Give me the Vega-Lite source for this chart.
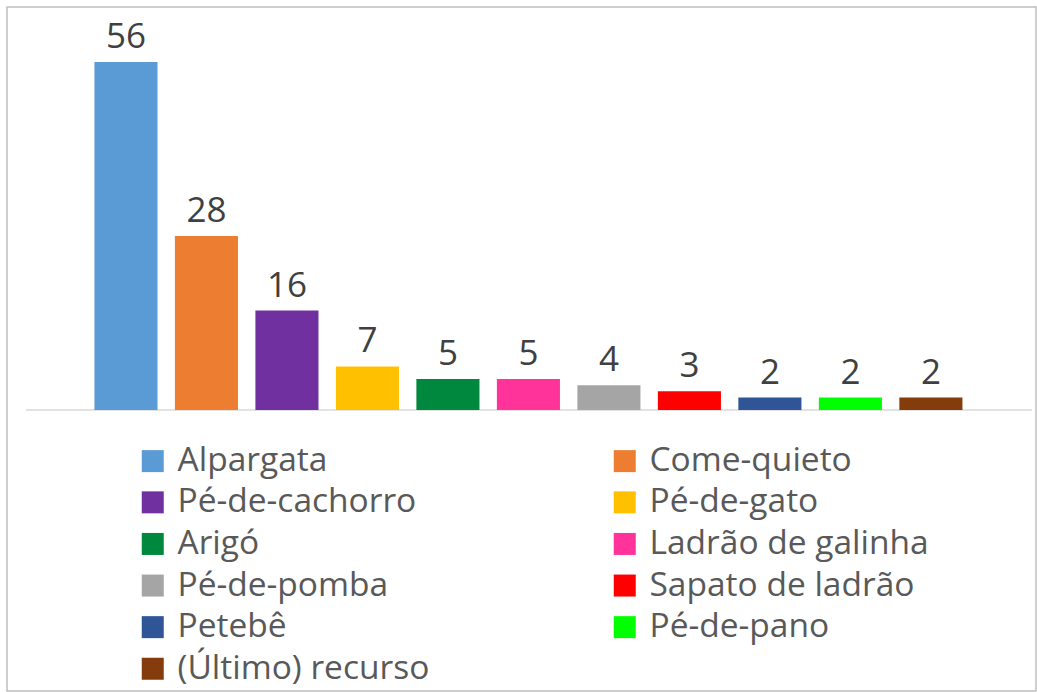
{
  "$schema": "https://vega.github.io/schema/vega-lite/v6.json",
  "width": 1029,
  "height": 684,
  "autosize": {"type": "none"},
  "padding": {"left": 7, "top": 7, "right": 1, "bottom": 1},
  "background": "white",
  "config": {"view": {"stroke": "#BFBFBF", "strokeWidth": 1.5}, "font": "Open Sans"},
  "datasets": {
    "bars": [
      {"name": "Alpargata", "value": 56},
      {"name": "Come-quieto", "value": 28},
      {"name": "Pé-de-cachorro", "value": 16},
      {"name": "Pé-de-gato", "value": 7},
      {"name": "Arigó", "value": 5},
      {"name": "Ladrão de galinha", "value": 5},
      {"name": "Pé-de-pomba", "value": 4},
      {"name": "Sapato de ladrão", "value": 3},
      {"name": "Petebê", "value": 2},
      {"name": "Pé-de-pano", "value": 2},
      {"name": "(Último) recurso", "value": 2}
    ],
    "base": [{"a": 0, "b": 1, "v": 0}]
  },
  "layer": [
    {
      "data": {"name": "base"},
      "mark": {"type": "rule", "color": "#D9D9D9", "strokeWidth": 1.5},
      "encoding": {
        "x": {"field": "a", "type": "quantitative", "scale": {"domain": [-0.01889, 1.00397], "nice": false, "zero": false}, "axis": null},
        "x2": {"field": "b"},
        "y": {"field": "v", "type": "quantitative", "scale": {"domain": [-45.22, 64.85], "nice": false, "zero": false}, "axis": null}
      }
    },
    {
      "data": {"name": "bars"},
      "encoding": {
        "x": {"field": "name", "type": "nominal", "sort": null,
              "scale": {"type": "band", "paddingInner": 0.2164, "paddingOuter": 1.0076, "align": 0.543, "round": false}, "axis": null},
        "y": {"field": "value", "type": "quantitative", "scale": {"domain": [-45.22, 64.85], "nice": false, "zero": false}, "axis": null}
      },
      "layer": [
        {
          "mark": {"type": "bar"},
          "encoding": {
            "y2": {"datum": 0},
            "color": {
              "field": "name", "type": "nominal",
              "scale": {
                "domain": ["Alpargata", "Come-quieto", "Pé-de-cachorro", "Pé-de-gato", "Arigó", "Ladrão de galinha", "Pé-de-pomba", "Sapato de ladrão", "Petebê", "Pé-de-pano", "(Último) recurso"],
                "range": ["#5B9BD5", "#ED7D31", "#7030A0", "#FFC000", "#00883E", "#FF3399", "#A5A5A5", "#FF0000", "#2F5597", "#00FF00", "#843C0C"]
              },
              "legend": {
                "title": null, "orient": "none", "legendX": 129, "legendY": 437,
                "direction": "horizontal", "columns": 2, "gridAlign": "each",
                "symbolType": "square", "symbolSize": 484, "symbolStrokeWidth": 0,
                "labelFontSize": 33.5, "labelColor": "#595959", "labelOffset": 8, "labelLimit": 500,
                "rowPadding": 6.6, "columnPadding": 178
              }
            }
          }
        },
        {
          "mark": {"type": "text", "dy": -14, "baseline": "alphabetic", "fontSize": 35, "color": "#404040"},
          "encoding": {
            "text": {"field": "value", "type": "quantitative"}
          }
        }
      ]
    }
  ],
  "resolve": {"scale": {"x": "independent"}}
}
